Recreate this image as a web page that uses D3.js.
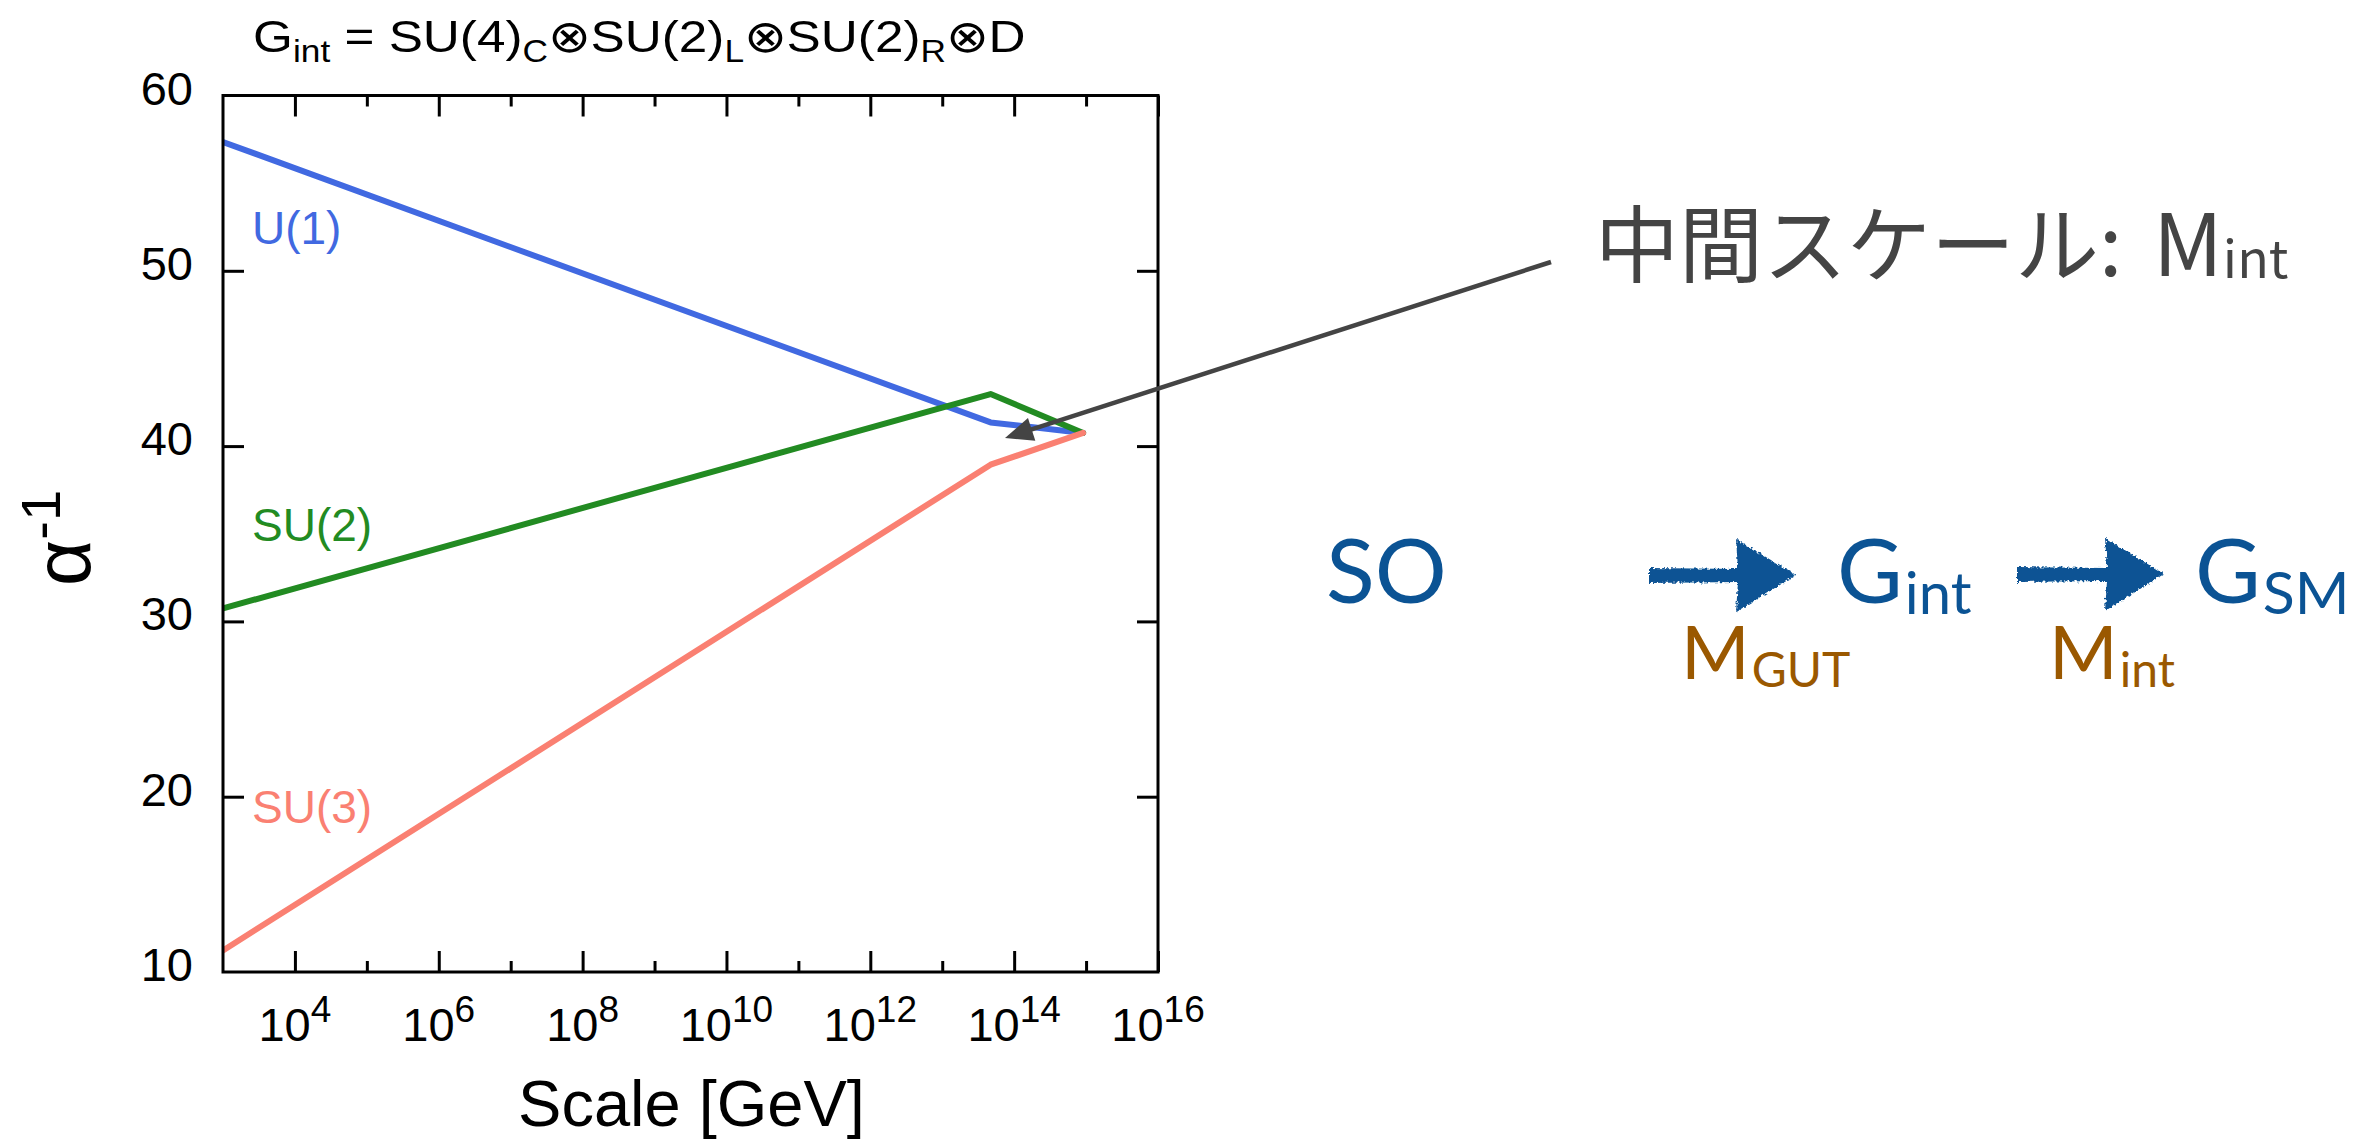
<!DOCTYPE html>
<html>
<head>
<meta charset="utf-8">
<script src="https://cdn.jsdelivr.net/npm/d3@7"></script>
<style>
  html, body { margin: 0; padding: 0; background: #fff; }
  svg { display: block; }
</style>
</head>
<body>
<script>
// ---------- data ----------
const scaleGeV   = [1e3, 4.7e13, 9.1e14];          // x breakpoints (GeV)
const u1Values   = [57.35, 41.35, 40.75];          // U(1) alpha^-1
const su2Values  = [30.74, 42.97, 40.75];          // SU(2) alpha^-1
const su3Values  = [11.23, 38.94, 40.75];          // SU(3) alpha^-1
const seriesNames  = ["U(1)", "SU(2)", "SU(3)"];
const seriesColors = ["#4169E1", "#228B22", "#FA8072"];
const xMajorTicks  = [1e4, 1e6, 1e8, 1e10, 1e12, 1e14, 1e16];
const xMajorExp    = ["4", "6", "8", "10", "12", "14", "16"];
const xMinorTicks  = [1e5, 1e7, 1e9, 1e11, 1e13, 1e15];
const yTickValues  = [10, 20, 30, 40, 50, 60];
const yTickLabels  = ["10", "20", "30", "40", "50", "60"];

// ---------- setup ----------
const W = 2376, H = 1143;
const svg = d3.select("body").append("svg").attr("width", W).attr("height", H);
svg.append("rect").attr("width", W).attr("height", H).attr("fill", "#fff");

const L = 223, R = 1158, T = 95.5, B = 972;
const x = d3.scaleLog().domain([1e3, 1e16]).range([L, R]);
const y = d3.scaleLinear().domain([10, 60]).range([B, T]);
const FONT = "'Liberation Sans', Arial, Helvetica, sans-serif";

// defs
const defs = svg.append("defs");
const clip = defs.append("clipPath").attr("id", "plotclip");
clip.append("rect").attr("x", L).attr("y", T).attr("width", R - L).attr("height", B - T);
const rough = defs.append("filter").attr("id", "rough").attr("x", "-10%").attr("y", "-20%").attr("width", "120%").attr("height", "140%");
rough.append("feTurbulence").attr("type", "fractalNoise").attr("baseFrequency", 0.35).attr("numOctaves", 2).attr("seed", 3).attr("result", "noise");
rough.append("feDisplacementMap").attr("in", "SourceGraphic").attr("in2", "noise").attr("scale", 5).attr("xChannelSelector", "R").attr("yChannelSelector", "G");

// ---------- axes (ticks inward on all sides) ----------
const gAx = svg.append("g");
function styleAxis(g) {
  g.select(".domain").remove();
  g.selectAll(".tick line").attr("stroke", "#000").attr("stroke-width", 3);
  g.selectAll(".tick text").remove();
}
gAx.append("g").attr("transform", `translate(0,${B})`)
  .call(d3.axisBottom(x).tickValues(xMajorTicks).tickSize(-21).tickFormat("")).call(styleAxis);
gAx.append("g").attr("transform", `translate(0,${B})`)
  .call(d3.axisBottom(x).tickValues(xMinorTicks).tickSize(-11).tickFormat("")).call(styleAxis);
gAx.append("g").attr("transform", `translate(0,${T})`)
  .call(d3.axisTop(x).tickValues(xMajorTicks).tickSize(-21).tickFormat("")).call(styleAxis);
gAx.append("g").attr("transform", `translate(0,${T})`)
  .call(d3.axisTop(x).tickValues(xMinorTicks).tickSize(-11).tickFormat("")).call(styleAxis);
gAx.append("g").attr("transform", `translate(${L},0)`)
  .call(d3.axisLeft(y).tickValues(yTickValues.slice(1, -1)).tickSize(-21).tickFormat("")).call(styleAxis);
gAx.append("g").attr("transform", `translate(${R},0)`)
  .call(d3.axisRight(y).tickValues(yTickValues.slice(1, -1)).tickSize(-21).tickFormat("")).call(styleAxis);

// x tick labels 10^n
xMajorTicks.forEach((v, i) => {
  const t = svg.append("text").attr("x", x(v)).attr("y", 1041)
    .attr("text-anchor", "middle").attr("font-family", FONT).attr("fill", "#000");
  t.append("tspan").attr("font-size", 47).text("10");
  t.append("tspan").attr("font-size", 37).attr("dy", -19).text(xMajorExp[i]);
});
// y tick labels
yTickValues.forEach((v, i) => {
  svg.append("text").attr("x", 193).attr("y", y(v) + 9)
    .attr("text-anchor", "end").attr("font-family", FONT).attr("font-size", 47)
    .attr("fill", "#000").text(yTickLabels[i]);
});

// axis titles
svg.append("text").attr("x", (L + R) / 2 + 1).attr("y", 1126).attr("text-anchor", "middle")
  .attr("font-family", FONT).attr("font-size", 65).attr("fill", "#000").text("Scale [GeV]");
const yl = svg.append("text").attr("transform", "translate(90,538) rotate(-90)")
  .attr("text-anchor", "middle").attr("font-family", FONT).attr("fill", "#000");
yl.append("tspan").attr("font-size", 80).text("α");
yl.append("tspan").attr("font-size", 56).attr("dy", -30).text("-1");

// title (horizontally stretched as in the reference)
const tg = svg.append("g");
const tt = tg.append("text").attr("x", 0).attr("y", 0).attr("font-family", FONT).attr("fill", "#000");
const titleParts = [["G", 0], ["int", 1], [" = SU(4)", 0], ["C", 1], ["⊗SU(2)", 0], ["L", 1], ["⊗SU(2)", 0], ["R", 1], ["⊗D", 0]];
let prevSub = 0;
titleParts.forEach(([s, sub]) => {
  const dy = sub === prevSub ? 0 : (sub ? 10 : -10);
  tt.append("tspan").attr("font-size", sub ? 31 : 45).attr("dy", dy).text(s);
  prevSub = sub;
});
const tw = tt.node().getComputedTextLength();
tg.attr("transform", `translate(253,52) scale(${775 / tw},1)`);

// ---------- lines ----------
const line = d3.line().x(d => x(d[0])).y(d => y(d[1]));
const allSeries = [u1Values, su2Values, su3Values];
const gLines = svg.append("g").attr("clip-path", "url(#plotclip)");
allSeries.forEach((vals, i) => {
  gLines.append("path").datum(scaleGeV.map((s, j) => [s, vals[j]]))
    .attr("d", line).attr("fill", "none").attr("stroke", seriesColors[i])
    .attr("stroke-width", 6).attr("stroke-linejoin", "round").attr("stroke-linecap", "round");
});

// frame
svg.append("rect").attr("x", L).attr("y", T).attr("width", R - L).attr("height", B - T)
  .attr("fill", "none").attr("stroke", "#000").attr("stroke-width", 3);

// series labels
const labelBase = [244, 541, 823];
seriesNames.forEach((n, i) => {
  svg.append("text").attr("x", 252).attr("y", labelBase[i]).attr("font-family", FONT)
    .attr("font-size", 46).attr("fill", seriesColors[i]).text(n);
});

// ---------- annotation arrow ----------
const a0 = [1551, 262], tip = [1005, 438];
const dx = tip[0] - a0[0], dyv = tip[1] - a0[1], len = Math.hypot(dx, dyv);
const ux = dx / len, uy = dyv / len, hl = 28, hw = 12;
const base = [tip[0] - ux * hl, tip[1] - uy * hl];
svg.append("line").attr("x1", a0[0]).attr("y1", a0[1]).attr("x2", base[0] + ux * 4).attr("y2", base[1] + uy * 4)
  .attr("stroke", "#444").attr("stroke-width", 4.5);
svg.append("path").attr("d", `M${tip[0]},${tip[1]} L${base[0] - uy * hw},${base[1] + ux * hw} L${base[0] + uy * hw},${base[1] - ux * hw} Z`)
  .attr("fill", "#444");

const ann = svg.append("text").attr("y", 276).attr("font-family", "'Noto Sans CJK JP', sans-serif").attr("fill", "#444");
ann.append("tspan").attr("x", 1595).attr("font-size", 84).text("中間スケール:");
ann.append("tspan").attr("x", 2153).attr("font-size", 86).text("M");
ann.append("tspan").attr("font-size", 52).attr("dy", 2).text("int");

// ---------- symmetry breaking chain ----------
const BLUE = "#0B5394", BROWN = "#9A5800";
const RF = "Lato, 'Open Sans', sans-serif";
function sym(xp, main, sub, color, size, subSize, base, subDy) {
  const t = svg.append("text").attr("x", xp).attr("y", base).attr("font-family", RF).attr("fill", color);
  t.append("tspan").attr("font-size", size).text(main);
  if (sub) t.append("tspan").attr("font-size", subSize).attr("dy", subDy).attr("dx", 2).text(sub);
}
sym(1326, "SO", null, BLUE, 90, 0, 603, 0);
sym(1837, "G", "int", BLUE, 90, 58, 603, 11);
sym(2195, "G", "SM", BLUE, 90, 59, 603, 11);
sym(1681, "M", "GUT", BROWN, 74, 48, 679, 8);
sym(2049, "M", "int", BROWN, 74, 48, 679, 8);

function bigArrow(x0, xb, xt, yc) {
  const p = `M${x0},${yc - 7} L${xb},${yc - 6} L${xb - 2},${yc - 36} L${xt},${yc} L${xb - 2},${yc + 37} L${xb},${yc + 7} L${x0},${yc + 8} Z`;
  svg.append("path").attr("d", p).attr("fill", BLUE).attr("filter", "url(#rough)");
}
bigArrow(1649, 1738, 1796, 575);
bigArrow(2017, 2107, 2164, 574);
</script>
</body>
</html>
